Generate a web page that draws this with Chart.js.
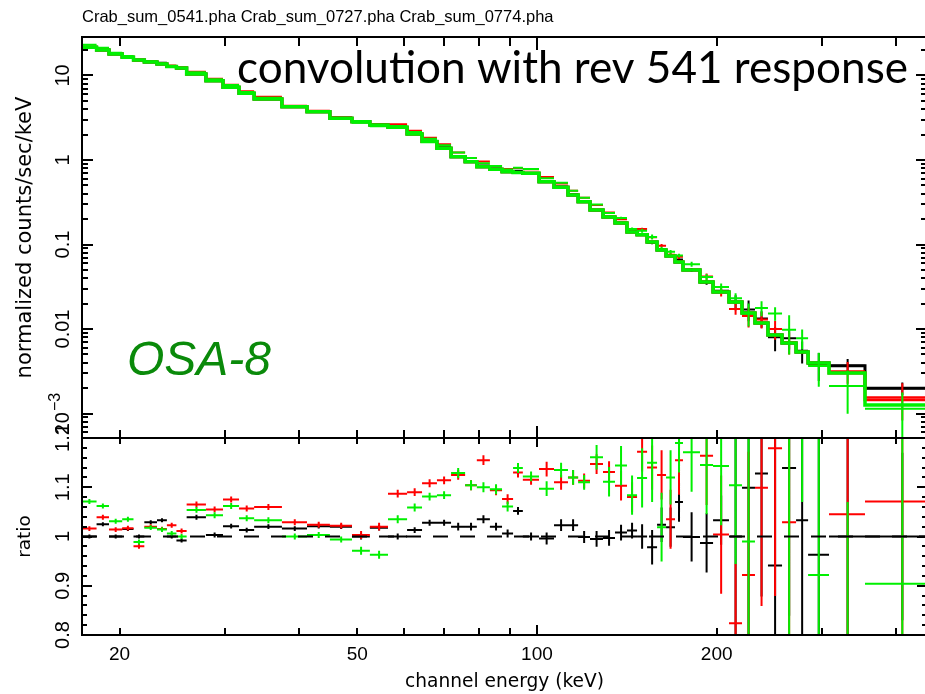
<!DOCTYPE html>
<html>
<head>
<meta charset="utf-8">
<title>Crab ratio rev 541</title>
<script src="https://cdn.jsdelivr.net/npm/chart.js@4.4.1/dist/chart.umd.min.js"></script>
<style>
  html, body { margin: 0; padding: 0; background: #fff; overflow: hidden; }
  #wrap { position: relative; width: 925px; height: 694px; overflow: hidden; }
  #wrap canvas { position: absolute; left: 0; top: 0; }
</style>
</head>
<body>
<div id="wrap">
  <canvas id="specChart" width="930" height="694"></canvas>
  <canvas id="ratioChart" width="930" height="694"></canvas>
</div>
<script>
// channel bin edges (keV)
const binEdges = [17.3, 18.3, 19.2, 20.2, 21.1, 22.0, 23.1, 24.0, 24.9, 25.9, 27.9, 29.8, 31.7, 33.6, 37.4, 41.2,
  45.0, 49.0, 52.5, 56.3, 60.6, 64.2, 68.0, 71.8, 75.8, 79.3, 83.4, 87.4, 91.2, 94.7, 100.8, 106.8, 112.7, 117.2,
  122.7, 129.0, 135.1, 141.5, 147.1, 152.9, 158.9, 164.5, 170.3, 175.6, 187.5, 197.2, 209.7, 220.5, 231.8, 243.7,
  257.3, 271.6, 284.5, 308.4, 354.3, 464];

// folded model (counts/sec/keV) per file
const modelBlack = [21.6, 20.0, 18.0, 16.4, 15.3, 14.4, 13.7, 12.8, 12.3, 10.4, 8.68, 7.25, 6.16, 5.27, 4.27, 3.73,
  3.12, 2.84, 2.60, 2.44, 2.03, 1.65, 1.38, 1.09, 0.955, 0.833, 0.776, 0.727, 0.711, 0.696, 0.554, 0.475, 0.385,
  0.321, 0.256, 0.212, 0.180, 0.141, 0.130, 0.107, 0.0861, 0.0731, 0.0621, 0.0499, 0.0360, 0.0274, 0.0209, 0.0155,
  0.0118, 0.00849, 0.00683, 0.00534, 0.00396, 0.00368, 0.00199];
const modelRed = [21.6, 20.0, 18.0, 16.4, 15.3, 14.4, 13.7, 12.8, 12.3, 10.4, 8.68, 7.25, 6.16, 5.27, 4.27, 3.73,
  3.12, 2.84, 2.60, 2.44, 2.03, 1.65, 1.38, 1.09, 0.955, 0.833, 0.776, 0.727, 0.711, 0.696, 0.554, 0.475, 0.385,
  0.321, 0.256, 0.212, 0.180, 0.141, 0.130, 0.107, 0.0861, 0.0731, 0.0621, 0.0499, 0.0360, 0.0274, 0.0209, 0.0155,
  0.0118, 0.00849, 0.00683, 0.00534, 0.00396, 0.00302, 0.00145];
const modelGreen = [21.6, 20.0, 18.0, 16.4, 15.3, 14.4, 13.7, 12.8, 12.3, 10.4, 8.68, 7.25, 6.16, 5.27, 4.27, 3.73,
  3.12, 2.84, 2.60, 2.44, 2.03, 1.65, 1.38, 1.09, 0.955, 0.833, 0.776, 0.727, 0.711, 0.696, 0.554, 0.475, 0.385,
  0.321, 0.256, 0.212, 0.180, 0.141, 0.130, 0.107, 0.0861, 0.0731, 0.0621, 0.0499, 0.0360, 0.0274, 0.0209, 0.0155,
  0.0118, 0.00849, 0.00683, 0.00534, 0.00396, 0.00302, 0.00126];

// data / model ratio and its error
const ratioBlack = [1.000, 1.025, 1.000, 1.015, 1.000, 1.029, 1.033, 1.000, 0.992, 1.039, 1.003, 1.021, 1.013, 1.020,
  1.016, 1.021, 1.020, 1.000, 1.018, 1.000, 1.013, 1.028, 1.028, 1.020, 1.020, 1.035, 1.020, 1.006, 1.052, 1.000,
  0.996, 1.023, 1.023, 0.999, 0.995, 0.997, 1.008, 1.012, 1.000, 0.978, 1.024, 1.019, 1.070, 0.999, 0.987, 1.033,
  1.000, 1.099, 1.128, 0.941, 1.139, 1.033, 0.963, 1.000, 1.000];
const errBlack = [0.004, 0.004, 0.004, 0.004, 0.004, 0.004, 0.004, 0.004, 0.004, 0.005, 0.005, 0.005, 0.005, 0.005,
  0.005, 0.005, 0.005, 0.006, 0.006, 0.006, 0.006, 0.006, 0.006, 0.008, 0.008, 0.008, 0.008, 0.008, 0.008, 0.008,
  0.012, 0.012, 0.012, 0.012, 0.016, 0.016, 0.016, 0.016, 0.025, 0.035, 0.035, 0.04, 0.04, 0.05, 0.06, 0.05,
  0.2, 0.3, 0.25, 0.3, 0.3, 0.3, 0.35, 0.2, 0.17];
const ratioRed = [1.016, 1.039, 1.014, 1.017, 0.980, 1.020, 1.015, 1.023, 1.011, 1.065, 1.055, 1.075, 1.057, 1.060,
  1.029, 1.024, 1.022, 1.003, 1.020, 1.087, 1.090, 1.108, 1.114, 1.125, 1.104, 1.155, 1.094, 1.076, 1.130, 1.115,
  1.137, 1.110, 1.120, 1.113, 1.147, 1.131, 1.103, 1.080, 1.172, 1.140, 1.125, 1.035, 1.155, null, 1.164, 1.004,
  0.824, 0.922, 1.099, 1.179, 1.029, null, null, 1.045, 1.071];
const errRed = [0.005, 0.005, 0.005, 0.005, 0.005, 0.005, 0.005, 0.005, 0.005, 0.006, 0.006, 0.006, 0.006, 0.006,
  0.006, 0.006, 0.006, 0.008, 0.008, 0.008, 0.008, 0.008, 0.008, 0.01, 0.01, 0.01, 0.01, 0.01, 0.01, 0.01,
  0.015, 0.015, 0.015, 0.015, 0.02, 0.022, 0.03, 0.03, 0.04, 0.045, 0.05, 0.06, 0.07, 0, 0.1, 0.12,
  0.12, 0.25, 0.24, 0.3, 0.3, 0, 0, 0.3, 0.5];
const ratioGreen = [1.071, 1.062, 1.031, 1.035, 0.989, 1.018, 1.014, 1.006, 1.000, 1.054, 1.043, 1.062, 1.037, 1.033,
  1.000, 1.003, 0.994, 0.971, 0.963, 1.035, 1.059, 1.081, 1.084, 1.129, 1.104, 1.100, 1.096, 1.061, 1.139, 1.122,
  1.097, 1.135, 1.120, 1.110, 1.161, 1.111, 1.144, 1.084, 1.119, 1.150, 1.019, 1.120, 1.190, 1.171, 1.145, 1.143,
  1.104, 0.990, 1.500, 1.800, 1.430, 1.460, 0.922, 0.700, 0.904];
const errGreen = [0.005, 0.005, 0.005, 0.005, 0.005, 0.005, 0.005, 0.005, 0.005, 0.006, 0.006, 0.006, 0.006, 0.006,
  0.006, 0.006, 0.006, 0.008, 0.008, 0.008, 0.008, 0.008, 0.008, 0.01, 0.01, 0.01, 0.01, 0.01, 0.01, 0.01,
  0.015, 0.015, 0.015, 0.015, 0.025, 0.03, 0.04, 0.04, 0.06, 0.08, 0.07, 0.055, 0.06, 0.08, 0.1, 0.12,
  0.16, 0.3, 0.3, 0.33, 0.7, 0.39, 0.4, 0.37, 0.5];

// axes
const xMin = 17.3, xMax = 450;
const specMin = 5.13e-4, specMax = 28.55;
const ratioMin = 0.8, ratioMax = 1.2;
const xTickLabels = [20, 50, 100, 200];
const xTickMarks = [20, 30, 40, 50, 60, 70, 80, 90, 100, 200, 300, 400];
const specTickValues = [0.001, 0.01, 0.1, 1, 10];
const specTickLabels = ['10^−3', '0.01', '0.1', '1', '10'];
const ratioTickValues = [0.8, 0.9, 1, 1.1, 1.2];
const ratioTickLabels = ['0.8', '0.9', '1', '1.1', '1.2'];

const headerText = 'Crab_sum_0541.pha Crab_sum_0727.pha Crab_sum_0774.pha';
const BLACK = '#000000', RED = '#ff0000', GREEN = '#00f000';
const labelFont = '"Liberation Sans", Arial, sans-serif';
const titleFont = '"DejaVu Sans", sans-serif';

// histogram steps: one point per left edge plus the last right edge
function stepPoints(model) {
    const pts = model.map((v, i) => ({ x: binEdges[i], y: v }));
    pts.push({ x: binEdges[binEdges.length - 1], y: model[model.length - 1] });
    return pts;
}

// error crosses as broken line segments
function crossPoints(values, errors) {
    const pts = [];
    values.forEach((v, i) => {
        if (v === null) return;
        const lo = binEdges[i], hi = binEdges[i + 1], mid = (lo + hi) / 2;
        pts.push({ x: lo, y: v }, { x: hi, y: v }, { x: hi, y: null });
        pts.push({ x: mid, y: Math.max(v - errors[i], 1e-6) }, { x: mid, y: v + errors[i] }, { x: mid, y: null });
    });
    return pts;
}

// counts in the top panel = model x ratio
function countsOf(model, ratio) { return ratio.map((r, i) => r === null ? null : model[i] * r); }
function countErrOf(model, err) { return err.map((e, i) => model[i] * e); }

function lineSet(data, color, width, order, extra) {
    return Object.assign({
        data: data, borderColor: color, borderWidth: width, pointRadius: 0, pointHoverRadius: 0,
        fill: false, tension: 0, spanGaps: false, order: order
    }, extra || {});
}

// frame, inward ticks and rotated y labels
function framePlugin(cfg) {
    return {
        id: 'frame_' + cfg.name,
        afterDraw(chart) {
            const { ctx, chartArea: a, scales } = chart;
            const xs = scales.x, ys = scales.y;
            ctx.save();
            ctx.strokeStyle = BLACK;
            ctx.lineWidth = 2;
            ctx.beginPath();
            xTickMarks.forEach(v => {
                const px = Math.round(xs.getPixelForValue(v));
                const major = v === 100;
                const lt = major ? cfg.xTop[1] : cfg.xTop[0];
                const lb = major ? cfg.xBottom[1] : cfg.xBottom[0];
                ctx.moveTo(px, a.top); ctx.lineTo(px, a.top + lt);
                ctx.moveTo(px, a.bottom); ctx.lineTo(px, a.bottom - lb);
            });
            cfg.yMinor.forEach(v => {
                const py = Math.round(ys.getPixelForValue(v));
                ctx.moveTo(a.left, py); ctx.lineTo(a.left + cfg.yLen[0], py);
                ctx.moveTo(a.right, py); ctx.lineTo(a.right - cfg.yLen[0], py);
            });
            cfg.yMajor.forEach(v => {
                const py = Math.round(ys.getPixelForValue(v));
                ctx.moveTo(a.left, py); ctx.lineTo(a.left + cfg.yLen[1], py);
                ctx.moveTo(a.right, py); ctx.lineTo(a.right - cfg.yLen[1], py);
            });
            ctx.stroke();
            ctx.strokeRect(a.left, a.top, a.right - a.left, a.bottom - a.top);

            // y tick labels, reading upwards
            ctx.fillStyle = BLACK;
            ctx.textBaseline = 'alphabetic';
            cfg.yMajor.forEach((v, i) => {
                const py = ys.getPixelForValue(v);
                const parts = cfg.yLabels[i].split('^');
                ctx.save();
                ctx.translate(69, py);
                ctx.rotate(-Math.PI / 2);
                ctx.font = '20px ' + labelFont;
                if (parts.length === 1) {
                    ctx.textAlign = 'center';
                    ctx.fillText(parts[0], 0, 0);
                } else {
                    ctx.textAlign = 'left';
                    const wb = ctx.measureText(parts[0]).width;
                    ctx.font = '16px ' + labelFont;
                    const ws = ctx.measureText(parts[1]).width;
                    const x0 = -(wb + ws + 1) / 2;
                    ctx.fillText(parts[1], x0 + wb + 1, -9);
                    ctx.font = '20px ' + labelFont;
                    ctx.fillText(parts[0], x0, 0);
                }
                ctx.restore();
            });
            ctx.restore();
        }
    };
}

// minor ticks for the log axis
const specMinor = [];
for (let d = 1e-4; d < 100; d *= 10) {
    for (let k = 2; k <= 9; k++) {
        const v = k * d;
        if (v > specMin && v < specMax) specMinor.push(v);
    }
}
const ratioMinor = [];
for (let k = 0; k <= 20; k++) ratioMinor.push(0.8 + k * 0.02);

// text pasted on the top panel
const notesPlugin = {
    id: 'notes',
    afterDraw(chart) {
        const ctx = chart.ctx;
        ctx.save();
        ctx.fillStyle = BLACK;
        ctx.textBaseline = 'alphabetic';
        ctx.textAlign = 'left';
        ctx.font = '44px Lato, "Open Sans", sans-serif';
        const txt = 'convolution with rev 541 response';
        const w = ctx.measureText(txt).width;
        ctx.translate(237, 83);
        ctx.scale(671 / w, 1);
        ctx.fillText(txt, 0, 0);
        ctx.restore();

        ctx.save();
        ctx.fillStyle = '#0a8a0a';
        ctx.font = 'italic 48px ' + labelFont;
        ctx.textBaseline = 'alphabetic';
        ctx.fillText('OSA-8', 127, 375);
        ctx.restore();
    }
};

const commonOpts = { responsive: false, animation: false, events: [] };

const specChart = new Chart(document.getElementById('specChart'), {
    type: 'line',
    data: {
        datasets: [
            lineSet(crossPoints(countsOf(modelBlack, ratioBlack), countErrOf(modelBlack, errBlack)), BLACK, 2, 6),
            lineSet(stepPoints(modelBlack), BLACK, 3, 5, { stepped: true }),
            lineSet(crossPoints(countsOf(modelRed, ratioRed), countErrOf(modelRed, errRed)), RED, 2, 4),
            lineSet(stepPoints(modelRed), RED, 3, 3, { stepped: true }),
            lineSet(crossPoints(countsOf(modelGreen, ratioGreen), countErrOf(modelGreen, errGreen)), GREEN, 2, 2),
            lineSet(stepPoints(modelGreen), GREEN, 3.5, 1, { stepped: true })
        ]
    },
    options: Object.assign({}, commonOpts, {
        layout: { padding: { left: 0, right: 3, top: 0, bottom: 256 } },
        plugins: {
            legend: { display: false },
            tooltip: { enabled: false },
            title: {
                display: true, text: headerText, align: 'start', fullSize: false, color: BLACK,
                font: { family: labelFont, size: 16.5, weight: 'normal' },
                padding: { top: 8, bottom: 9.2 }
            }
        },
        scales: {
            x: { type: 'logarithmic', min: xMin, max: xMax, display: false },
            y: {
                type: 'logarithmic', min: specMin, max: specMax, position: 'left',
                ticks: { display: false }, grid: { display: false }, border: { display: false },
                title: {
                    display: true, text: 'normalized counts/sec/keV', color: BLACK,
                    font: { family: titleFont, size: 21 }, padding: { top: 13, bottom: 0 }
                },
                afterFit: function (s) { s.width = 82; }
            }
        }
    }),
    plugins: [framePlugin({
        name: 'spec', xTop: [9, 13], xBottom: [8, 12], yLen: [6, 11],
        yMinor: specMinor, yMajor: specTickValues, yLabels: specTickLabels
    }), notesPlugin]
});

const ratioChart = new Chart(document.getElementById('ratioChart'), {
    type: 'line',
    data: {
        datasets: [
            lineSet([{ x: xMin, y: 1 }, { x: xMax, y: 1 }], BLACK, 2, 0, { borderDash: [15, 12] }),
            lineSet(crossPoints(ratioBlack, errBlack), BLACK, 2, 3),
            lineSet(crossPoints(ratioRed, errRed), RED, 2, 2),
            lineSet(crossPoints(ratioGreen, errGreen), GREEN, 2, 1)
        ]
    },
    options: Object.assign({}, commonOpts, {
        layout: { padding: { left: 0, right: 3, top: 438, bottom: 0 } },
        plugins: { legend: { display: false }, tooltip: { enabled: false } },
        scales: {
            x: {
                type: 'logarithmic', min: xMin, max: xMax, position: 'bottom',
                afterBuildTicks: function (s) { s.ticks = xTickLabels.map(v => ({ value: v })); },
                ticks: {
                    autoSkip: false, maxRotation: 0, minRotation: 0, padding: 8, color: BLACK,
                    font: { family: labelFont, size: 19 },
                    callback: function (v) { return String(v); }
                },
                grid: { display: false, drawTicks: false }, border: { display: false },
                title: {
                    display: true, text: 'channel energy (keV)', color: BLACK,
                    font: { family: titleFont, size: 18.6 }, padding: { top: 0, bottom: 1 }
                },
                afterFit: function (s) { s.height = 59; }
            },
            y: {
                type: 'linear', min: ratioMin, max: ratioMax, position: 'left',
                ticks: { display: false }, grid: { display: false }, border: { display: false },
                title: {
                    display: true, text: 'ratio', color: BLACK,
                    font: { family: titleFont, size: 18.5 }, padding: { top: 14, bottom: 0 }
                },
                afterFit: function (s) { s.width = 82; }
            }
        }
    }),
    plugins: [framePlugin({
        name: 'ratio', xTop: [6, 9], xBottom: [7, 10], yLen: [5, 10],
        yMinor: ratioMinor, yMajor: ratioTickValues, yLabels: ratioTickLabels
    })]
});
</script>
</body>
</html>
